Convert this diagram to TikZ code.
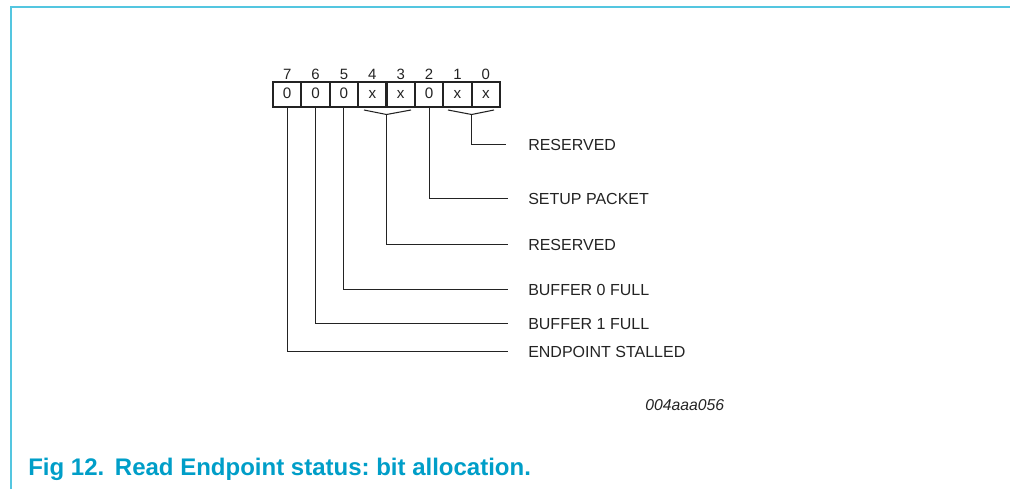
\documentclass[tikz,border=0pt]{standalone}
\usepackage{fontspec}
\setmainfont{Liberation Sans}
\frenchspacing
\definecolor{nxpblue}{RGB}{0,158,200}
\definecolor{framecyan}{RGB}{84,198,224}
\definecolor{ink}{RGB}{35,35,35}
\begin{document}
\begin{tikzpicture}[x=0.75pt,y=-0.75pt,
  cell/.style={draw=ink,line width=1.6pt,minimum width=21.28pt,minimum height=18.75pt,inner sep=0pt,outer sep=0pt},
  val/.style={anchor=base,inner sep=0pt,text=ink,font=\fontsize{11.4pt}{13pt}\selectfont},
  bitnum/.style={anchor=base,inner sep=0pt,text=ink,font=\fontsize{11.2pt}{13pt}\selectfont},
  lab/.style={anchor=base west,inner sep=0pt,text=ink,font=\fontsize{12pt}{14pt}\selectfont},
  lead/.style={draw=ink,line width=0.8pt},
  brc/.style={draw=ink,line width=0.8pt,line join=miter}]
\useasboundingbox (0,0) rectangle (1010,489);
\draw[framecyan,line width=1.5pt] (11,489) -- (11,7) -- (1010,7);
% register cells
\foreach \i/\v [count=\k from 0] in {7/0,6/0,5/0,4/x,3/x,2/0,1/x,0/x}{
  \node[cell] (c\i) at ({273+28.375*(\k+0.5)},94.5) {};
  \node[val] (v\i) at ({273+28.375*(\k+0.5)},98.5) {\v};
  \node[bitnum] (n\i) at ({273+28.375*(\k+0.5)},79.5) {\i};
}
% braces
\coordinate (b43l) at (364,110);
\coordinate (b43m) at (386.5,114.5);
\coordinate (b43r) at (411,110);
\coordinate (b10l) at (448,110);
\coordinate (b10m) at (471.6,114.5);
\coordinate (b10r) at (494,110);
\draw[brc] (b43l) -- (b43m) -- (b43r);
\draw[brc] (b10l) -- (b10m) -- (b10r);
% labels
\node[lab] (l10) at (528,150.3) {RESERVED};
\node[lab] (l2) at (528,204.3) {SETUP PACKET};
\node[lab] (l43) at (528,250.3) {RESERVED};
\node[lab] (l5) at (528,295.3) {BUFFER 0 FULL};
\node[lab] (l6) at (528,329.3) {BUFFER 1 FULL};
\node[lab] (l7) at (528,357.3) {ENDPOINT STALLED};
% leads
\draw[lead] (b10m) |- ([xshift=-16.5pt,yshift=4.35pt]l10.base west);
\draw[lead] (c2.south) |- ([xshift=-15pt,yshift=4.35pt]l2.base west);
\draw[lead] (b43m) |- ([xshift=-15pt,yshift=4.35pt]l43.base west);
\draw[lead] (c5.south) |- ([xshift=-15pt,yshift=4.35pt]l5.base west);
\draw[lead] (c6.south) |- ([xshift=-15pt,yshift=4.35pt]l6.base west);
\draw[lead] (c7.south) |- ([xshift=-15pt,yshift=4.35pt]l7.base west);
% code and caption
\node[anchor=base west,inner sep=0pt,text=ink,font=\fontsize{11.8pt}{14pt}\selectfont\itshape] (code) at (645,410) {004aaa056};
\node[anchor=base west,inner sep=0pt,text=nxpblue,font=\fontsize{18pt}{22pt}\selectfont\bfseries] (cap) at (28,475) {Fig 12.\hspace{3pt} Read Endpoint status: bit allocation.};
\end{tikzpicture}
\end{document}
